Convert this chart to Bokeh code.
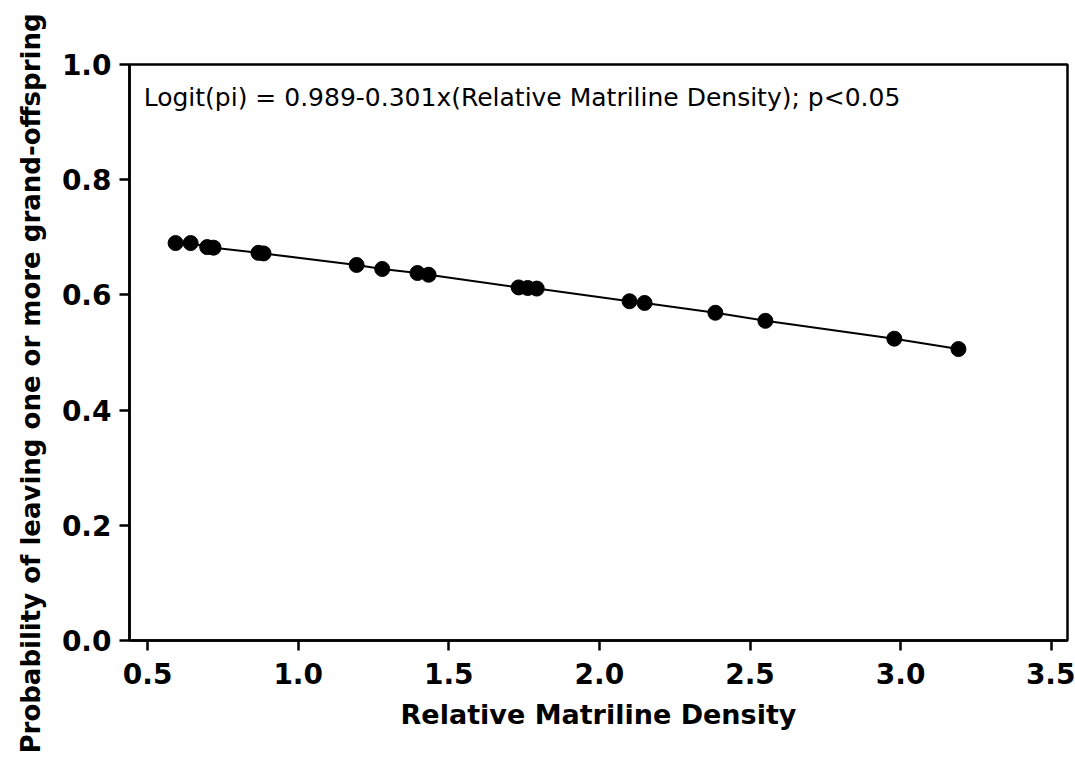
from bokeh.plotting import figure
from bokeh.models import Range1d, FixedTicker, NumeralTickFormatter, Label, Title, ColumnDataSource
from bokeh.embed import file_html
from bokeh.resources import INLINE

# Data
density = [0.593, 0.643, 0.698, 0.719, 0.868, 0.885, 1.194, 1.279, 1.396, 1.433,
           1.732, 1.762, 1.792, 2.100, 2.150, 2.385, 2.551, 2.979, 3.192]
probability = [0.690, 0.690, 0.683, 0.682, 0.673, 0.672, 0.652, 0.645, 0.638, 0.635,
               0.613, 0.612, 0.611, 0.589, 0.586, 0.569, 0.555, 0.524, 0.506]
x_ticks = [0.5, 1.0, 1.5, 2.0, 2.5, 3.0, 3.5]
y_ticks = [0.0, 0.2, 0.4, 0.6, 0.8, 1.0]
annotation = "Logit(pi) = 0.989-0.301x(Relative Matriline Density); p<0.05"
x_title = "Relative Matriline Density"
y_title = "Probability of leaving one or more grand-offspring"

src = ColumnDataSource(dict(x=density, y=probability))

p = figure(width=1075, height=759, output_backend="svg", toolbar_location=None,
           x_range=Range1d(0.44, 3.554), y_range=Range1d(0.0, 1.0),
           min_border_left=129, min_border_right=8, min_border_top=64, min_border_bottom=119)
p.frame_width = 938
p.frame_height = 576

p.line("x", "y", source=src, line_color="black", line_width=2)
p.scatter("x", "y", source=src, size=15, fill_color="black", line_color="black")

p.xgrid.visible = False
p.ygrid.visible = False
p.outline_line_color = "black"
p.outline_line_width = 2.5
p.outline_line_alpha = 1.0

for ax in (p.xaxis[0], p.yaxis[0]):
    ax.axis_line_width = 2.5
    ax.major_tick_line_width = 2.5
    ax.major_tick_out = 10
    ax.major_tick_in = 0
    ax.minor_tick_line_color = None
    ax.major_label_text_font = "DejaVu Sans"
    ax.major_label_text_font_style = "bold"
    ax.major_label_text_font_size = "28px"
    ax.major_label_text_color = "black"
    ax.axis_label_text_font = "DejaVu Sans"
    ax.axis_label_text_font_style = "bold"
    ax.axis_label_text_color = "black"
    ax.formatter = NumeralTickFormatter(format="0.0")

p.xaxis[0].ticker = FixedTicker(ticks=x_ticks)
p.yaxis[0].ticker = FixedTicker(ticks=y_ticks)
p.xaxis[0].axis_label = x_title
p.xaxis[0].axis_label_text_font_size = "27px"
p.xaxis[0].major_label_standoff = 12
p.yaxis[0].major_label_standoff = 8
p.xaxis[0].axis_label_standoff = 12

# vertical y-axis title as a side-panel title (so it can sit slightly below centre)
p.add_layout(Title(text=y_title, align="left", offset=-113, standoff=26,
                   text_font="DejaVu Sans", text_font_style="bold",
                   text_font_size="26px", text_color="black"), "left")

p.add_layout(Label(x=0.487, y=0.943, text=annotation, text_font="DejaVu Sans",
                   text_font_size="25px", text_baseline="middle", text_color="black"))

open("out.html", "w").write(file_html(p, INLINE))
